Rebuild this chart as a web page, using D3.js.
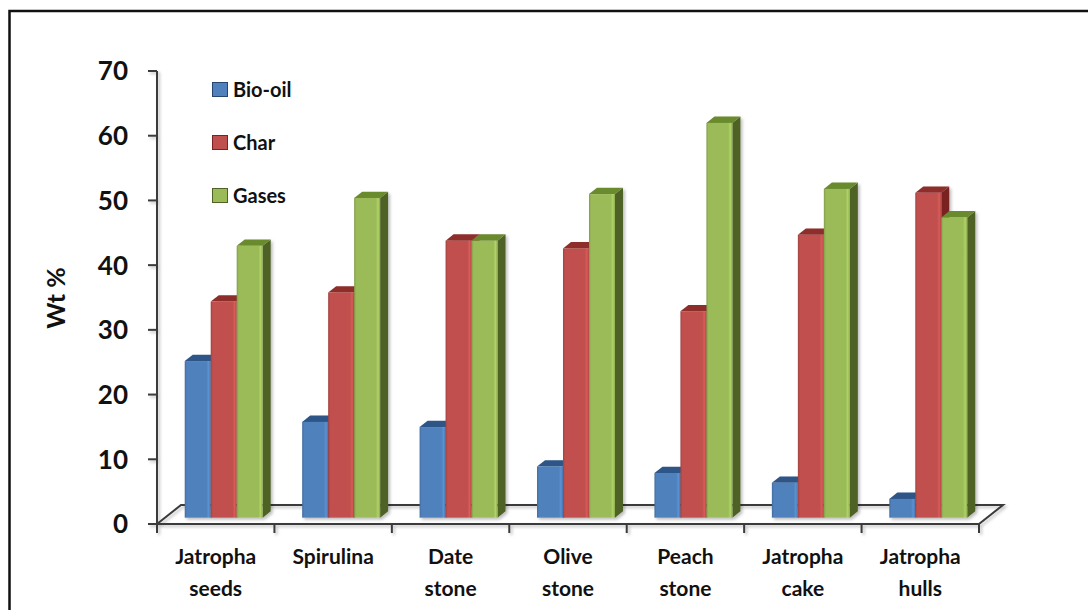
<!DOCTYPE html>
<html>
<head>
  <title>Pyrolysis product yields</title>
  <style type="text/css">
    body { margin: 0; background: #fff; }
    svg { display: block; }
    text { font-family: Lato, "Open Sans", sans-serif; font-weight: bold; fill: #111; }
  </style>
</head>
<body>

<div id="chart"></div>

<script src="https://d3js.org/d3.v7.min.js"></script>
<script type="text/javascript">
var categories = ["Jatropha seeds", "Spirulina", "Date stone", "Olive stone", "Peach stone", "Jatropha cake", "Jatropha hulls"];
var seriesNames = ["Bio-oil", "Char", "Gases"];
var bioOil = [24.2, 14.8, 14.0, 7.9, 6.9, 5.4, 2.9];
var charYield = [33.4, 34.8, 42.8, 41.6, 31.9, 43.7, 50.2];
var gases = [42.0, 49.4, 42.8, 50.0, 61.0, 50.8, 46.4];
var yTicks = [0, 10, 20, 30, 40, 50, 60, 70];

var seriesValues = [bioOil, charYield, gases];
var colors = {
  "Bio-oil": {front: "#4f81bd", top: "#2f5587", side: "#27466f"},
  "Char":    {front: "#c0504d", top: "#8e2d2b", side: "#7a2321"},
  "Gases":   {front: "#9bbb59", top: "#6a8a2e", side: "#4f6228"}
};

var width = 1088, height = 610;
// floor depth vector, bars sit in the middle third of it
var depthX = 24, depthY = -19;
var barDX = depthX / 3, barDY = depthY / 3;

var svg = d3.select("#chart")
  .append("svg")
  .attr("width", width)
  .attr("height", height);

var defs = svg.append("defs");
var shadow = defs.append("filter").attr("id", "shadow")
  .attr("x", "-10%").attr("y", "-10%").attr("width", "130%").attr("height", "130%");
shadow.append("feDropShadow")
  .attr("dx", 2).attr("dy", 2).attr("stdDeviation", 1.5)
  .attr("flood-color", "#000").attr("flood-opacity", 0.25);

seriesNames.forEach((s, i) => {
  var g = defs.append("linearGradient").attr("id", "grad" + i)
    .attr("x1", "0%").attr("x2", "100%").attr("y1", "0%").attr("y2", "0%");
  var c = d3.color(colors[s].front);
  g.append("stop").attr("offset", "0%").attr("stop-color", c.darker(0.5));
  g.append("stop").attr("offset", "8%").attr("stop-color", c);
  g.append("stop").attr("offset", "84%").attr("stop-color", c);
  g.append("stop").attr("offset", "92%").attr("stop-color", c.brighter(0.35));
  g.append("stop").attr("offset", "100%").attr("stop-color", c.darker(0.3));
});

// outer frame
svg.append("rect")
  .attr("x", 9.5).attr("y", 11)
  .attr("width", 1200).attr("height", 700)
  .attr("fill", "none")
  .attr("stroke", "#111")
  .attr("stroke-width", 2.5);

var y = d3.scaleLinear()
  .domain([0, 70])
  .range([524, 71]);

var x = d3.scaleBand()
  .domain(categories)
  .range([157, 979])
  .paddingInner(0.336)
  .paddingOuter(0.168);

var xs = d3.scaleBand()
  .domain(seriesNames)
  .range([0, x.bandwidth()]);

// floor
var x0 = x.range()[0], x1 = x.range()[1], y0 = y(0);
var axes = svg.append("g")
  .attr("fill", "none")
  .attr("stroke", "#3a3a3a")
  .attr("stroke-width", 2)
  .style("filter", "url(#shadow)");

axes.append("path")
  .attr("d", d3.line()([[x0, y0], [x0 + depthX, y0 + depthY], [x1 + depthX, y0 + depthY], [x1, y0]]));

axes.append("path")
  .attr("d", d3.line()([[148, y0], [x1, y0]]));

// value axis
axes.append("path")
  .attr("d", d3.line()([[x0, y(70)], [x0, y0]]));

axes.selectAll(".ytick")
  .data(yTicks)
  .enter()
  .append("path")
  .attr("d", d => d3.line()([[148, y(d)], [x0, y(d)]]));

// category ticks
var catEdges = d3.range(categories.length + 1).map(i => x0 + i * x.step());
axes.selectAll(".xtick")
  .data(catEdges)
  .enter()
  .append("path")
  .attr("d", d => d3.line()([[d, y0], [d, y0 + 9]]));

svg.selectAll(".ylabel")
  .data(yTicks)
  .enter()
  .append("text")
  .attr("x", 128)
  .attr("y", d => y(d))
  .attr("dy", "0.36em")
  .attr("text-anchor", "end")
  .style("font-size", "26px")
  .text(d => d);

svg.append("text")
  .attr("transform", "translate(56,298) rotate(-90)")
  .attr("dy", "0.36em")
  .attr("text-anchor", "middle")
  .style("font-size", "25px")
  .text("Wt %");

// category labels on two lines
var catLabels = svg.selectAll(".xlabel")
  .data(categories)
  .enter()
  .append("text")
  .attr("text-anchor", "middle")
  .style("font-size", "21px");

catLabels.each(function(d) {
  var words = d.split(" ");
  var t = d3.select(this);
  words.forEach((w, i) => {
    t.append("tspan")
      .attr("x", x(d) + x.bandwidth() / 2)
      .attr("y", 564 + i * 32)
      .text(w);
  });
});

// 3d bars
var bars = svg.append("g").style("filter", "url(#shadow)");
categories.forEach((cat, ci) => {
  var g = bars.append("g");
  seriesNames.forEach((s, si) => {
    var v = seriesValues[si][ci];
    var bx = x(cat) + xs(s) + barDX;
    var bw = xs.bandwidth();
    var base = y(0) + barDY;
    var top = y(v) + barDY;
    g.append("path")
      .attr("d", d3.line()([[bx + bw, top], [bx + bw + barDX, top + barDY], [bx + bw + barDX, base + barDY], [bx + bw, base]]))
      .attr("fill", colors[s].side);
    g.append("path")
      .attr("d", d3.line()([[bx, top], [bx + barDX, top + barDY], [bx + bw + barDX, top + barDY], [bx + bw, top]]))
      .attr("fill", colors[s].top);
    g.append("rect")
      .attr("x", bx)
      .attr("y", top)
      .attr("width", bw)
      .attr("height", base - top)
      .attr("fill", "url(#grad" + si + ")");
  });
});

// legend
var legend = svg.append("g");
seriesNames.forEach((s, i) => {
  var ly = 82 + i * 53;
  legend.append("rect")
    .attr("x", 212.5).attr("y", ly + 0.5)
    .attr("width", 15).attr("height", 14)
    .attr("fill", colors[s].front)
    .attr("stroke", colors[s].side)
    .attr("stroke-width", 1);
  legend.append("text")
    .attr("x", 233)
    .attr("y", ly + 15)
    .style("font-size", "20px")
    .text(s);
});
</script>
</body>
</html>
